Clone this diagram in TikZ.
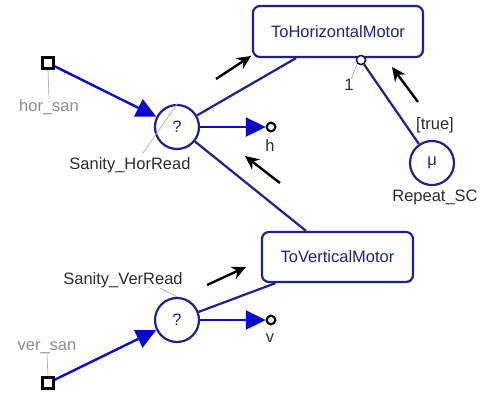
\documentclass[tikz,border=0pt]{standalone}
\usepackage{fontspec}
\setmainfont{Liberation Sans}
\usetikzlibrary{arrows.meta}
\definecolor{navy}{RGB}{32,32,138}
\definecolor{flowblue}{RGB}{10,10,200}
\definecolor{lbl}{RGB}{45,45,45}
\definecolor{glbl}{RGB}{140,140,140}
\definecolor{thinblue}{RGB}{170,170,220}
\begin{document}
\begin{tikzpicture}[x=1pt,y=-1pt,
  every node/.style={font=\fontsize{16.5}{18}\selectfont, inner sep=0pt},
  pin/.style={draw=black, line width=2.2pt, fill=white, minimum size=11pt, rectangle},
  decisionnode/.style={circle, draw=navy, line width=2.2pt, fill=white, minimum size=44pt, text=navy},
  taskbox/.style={rectangle, rounded corners=7pt, draw=navy, line width=2.2pt, fill=white, text=navy},
  outport/.style={circle, draw=black, line width=2pt, fill=white, minimum size=8.5pt},
  inport/.style={circle, draw=navy!70!black, line width=1.4pt, fill=white, minimum size=9pt},
  lab/.style={text=lbl},
  glab/.style={text=glbl},
  flow/.style={draw=flowblue, line width=2.4pt, -{Triangle[length=20pt,width=19pt]}},
  link/.style={draw=navy, line width=2.2pt},
  hint/.style={draw=black, line width=2.4pt, -{Stealth[length=14pt,width=13pt]}},
  tick/.style={draw=thinblue, line width=0.7pt},
  gtick/.style={draw=glbl!70, line width=0.7pt}
]
\useasboundingbox (0,0) rectangle (481,392);
\fill[white] (0,0) rectangle (481,392);

% nodes
\node[pin] (hs) at (48,63) {};
\node[glab] (hsl) at (49,107) {hor\_san};
\node[decisionnode] (shr) at (177,127) {?};
\node[lab] (shrl) at (130,165) {Sanity\_HorRead};
\node[outport] (hp) at (271,127) {};
\node[lab] (hl) at (270,146) {h};

\node[taskbox, minimum width=170pt, minimum height=51pt] (thm) at (338,31.5) {ToHorizontalMotor};
\node[inport] (p1) at (361,60) {};
\node[lab] (p1l) at (349,85) {1};
\node[decisionnode] (mu) at (432,163) {μ};
\node[lab] (tl) at (435,125) {[true]};
\node[lab] (mul) at (435,197) {Repeat\_SC};

\node[taskbox, minimum width=151pt, minimum height=50pt] (tvm) at (337.5,257) {ToVerticalMotor};
\node[decisionnode] (svr) at (177,320) {?};
\node[lab] (svrl) at (123,280) {Sanity\_VerRead};
\node[outport] (vp) at (271,320) {};
\node[lab] (vl) at (270,338) {v};
\node[glab] (vsl) at (47,348) {ver\_san};
\node[pin] (vs) at (48,383) {};

% label ticks
\coordinate (shrt) at (143,153);
\draw[tick] (shrt) -- (shr.north);
\draw[gtick] (hs.south) -- (hsl.north);
\draw[tick] ([xshift=2pt]p1l.north) -- (p1.south west);
\draw[gtick] ([xshift=37pt]svrl.south) -- (svr.north);
\draw[gtick] (vs.north) -- (vsl.south);

% connectors
\draw[link] (shr) -- ([xshift=-42pt]thm.south);
\draw[link] (shr) -- ([xshift=-31.5pt]tvm.north);
\draw[link] (p1) -- (mu);
\draw[link] ([xshift=-62pt]tvm.south) -- (svr);

\draw[flow] (hs) -- (shr);
\draw[flow] (shr) -- (hp);
\draw[flow] (vs) -- (svr);
\draw[flow] (svr) -- (vp);

% redraw ports on top
\node[outport] at (hp) {};
\node[outport] at (vp) {};
\node[inport] at (p1) {};

% hint arrows
\coordinate (a1s) at (216,79); \coordinate (a1e) at (251,56);
\coordinate (a2s) at (418,102); \coordinate (a2e) at (392,67);
\coordinate (a3s) at (280,183); \coordinate (a3e) at (245,156);
\coordinate (a4s) at (207,285); \coordinate (a4e) at (246,267);
\draw[hint] (a1s) -- (a1e);
\draw[hint] (a2s) -- (a2e);
\draw[hint] (a3s) -- (a3e);
\draw[hint] (a4s) -- (a4e);
\end{tikzpicture}
\end{document}
